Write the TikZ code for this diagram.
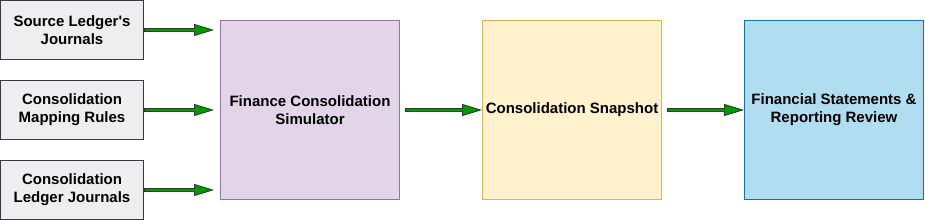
\documentclass[tikz,border=0pt]{standalone}
\usepackage{fontspec}
\setmainfont{Liberation Sans}
\usetikzlibrary{arrows.meta,positioning}
\definecolor{inputgrey}{HTML}{EEEEEE}
\definecolor{inputline}{HTML}{36393D}
\definecolor{simpurple}{HTML}{E1D5E7}
\definecolor{simline}{HTML}{9673A6}
\definecolor{snapyellow}{HTML}{FFF2CC}
\definecolor{snapline}{HTML}{D6B656}
\definecolor{reviewblue}{HTML}{B1DDF0}
\definecolor{reviewline}{HTML}{10739E}
\definecolor{flowgreen}{HTML}{009900}
\definecolor{flowedge}{HTML}{2B3A2B}

\begin{document}
\begin{tikzpicture}[x=1pt,y=1pt,
  inbox/.style={draw=inputline,fill=inputgrey,line width=1pt,
              minimum width=143pt,minimum height=59pt,align=center,
              inner sep=2pt,font=\bfseries\fontsize{15}{18}\selectfont},
  stage/.style={line width=1pt,minimum width=179pt,minimum height=179pt,
              align=center,inner sep=2pt,
              font=\bfseries\fontsize{15}{18}\selectfont},
  flow/.style={draw=flowedge,line width=4.6pt,
              -{Triangle[length=20pt,width=12pt,line width=0.9pt,fill=flowgreen]},
              postaction={draw=flowgreen,line width=2.8pt,-,
                          shorten >=19pt,shorten <=0.9pt}}]
  \useasboundingbox (0,0) rectangle (925,-222);
  \node[inbox] (srcjrnl) at (72,-30) {Source Ledger\textquotesingle s\\Journals};
  \node[inbox,below=20pt of srcjrnl] (maprules) {Consolidation\\Mapping Rules};
  \node[inbox,below=20pt of maprules] (ledgerjrnl) {Consolidation\\Ledger Journals};
  \node[stage,draw=simline,fill=simpurple,right=76pt of maprules] (simulator)
       {Finance Consolidation\\Simulator};
  \node[stage,draw=snapline,fill=snapyellow,right=82pt of simulator] (snapshot)
       {Consolidation Snapshot};
  \node[stage,draw=reviewline,fill=reviewblue,right=82pt of snapshot] (review)
       {Financial Statements \&\\Reporting Review};
  % inputs into the simulator
  \draw[flow] (srcjrnl.east) -- ([xshift=-6pt]srcjrnl -| simulator.west);
  \draw[flow] (maprules.east) -- ([xshift=-6pt]maprules -| simulator.west);
  \draw[flow] (ledgerjrnl.east) -- ([xshift=-6pt]ledgerjrnl -| simulator.west);
  % simulator to snapshot to review
  \draw[flow] ([xshift=5pt]simulator.east) -- (snapshot.west);
  \draw[flow] ([xshift=5pt]snapshot.east) -- (review.west);
\end{tikzpicture}
\end{document}
